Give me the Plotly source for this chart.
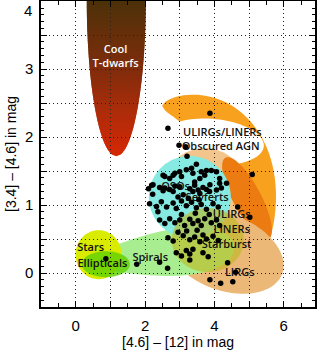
import numpy as np
import plotly.graph_objects as go

# ---------------- data ----------------
dots_x = [2.66, 3.87, 5.09, 2.98, 3.17, 3.21, 3.48, 3.34, 3.77,
          2.52, 2.71, 2.86, 3.05, 3.19, 3.43, 3.58, 3.72, 4.06, 4.15, 4.35, 3.91, 4.15, 2.57, 2.81, 3.00, 3.62, 3.38,
          2.23, 2.10, 2.19, 2.22, 2.42, 2.52, 2.57, 2.71, 2.81, 2.86, 3.00, 3.10, 3.29, 3.38, 3.43, 3.53, 3.58, 3.67, 3.77, 3.86, 3.87, 4.06, 4.20,
          2.13, 2.33, 2.47, 2.62, 2.81, 2.90, 3.05, 3.19, 3.34, 3.48, 3.62, 3.77, 3.96, 4.11, 2.95, 3.25, 3.55,
          2.37, 2.42, 2.57, 2.71, 2.86, 3.00, 3.14, 3.29, 3.38, 3.53, 3.62, 3.72, 3.91, 4.06, 4.15, 3.05, 3.45, 3.85,
          2.66, 2.81, 3.10, 3.29, 3.43, 3.58, 3.67, 3.77, 3.96, 4.11, 3.20, 3.50, 2.95,
          2.90, 3.05, 3.19, 3.29, 3.38, 3.67, 3.82,
          2.65, 3.29, 4.38, 4.61, 3.87, 4.18, 4.53, 4.67, 5.02, 2.42, 1.76, 0.87]
dots_y = [2.13, 2.35, 1.45, 1.88, 1.86, 1.72, 1.60, 1.54, 1.51,
          1.44, 1.39, 1.47, 1.42, 1.52, 1.34, 1.39, 1.44, 1.49, 1.32, 1.32, 1.51, 1.39, 1.42, 1.44, 1.49, 1.49, 1.47,
          1.30, 1.24, 1.29, 1.16, 1.26, 1.21, 1.25, 1.23, 1.20, 1.28, 1.27, 1.15, 1.24, 1.20, 1.29, 1.22, 1.17, 1.26, 1.23, 1.20, 1.30, 1.22, 1.25,
          1.02, 0.98, 1.05, 0.97, 1.03, 0.95, 1.06, 0.99, 1.04, 0.96, 1.01, 0.94, 1.02, 0.97, 1.12, 1.10, 1.08,
          0.90, 0.78, 0.73, 0.80, 0.74, 0.78, 0.70, 0.79, 0.73, 0.77, 0.70, 0.80, 0.74, 0.78, 0.70, 0.86, 0.88, 0.86,
          0.52, 0.47, 0.55, 0.49, 0.53, 0.46, 0.56, 0.50, 0.54, 0.48, 0.62, 0.63, 0.60,
          0.30, 0.25, 0.33, 0.28, 0.35, 0.30, 0.24,
          0.07, 0.19, 0.15, 0.01, -0.10, -0.15, -0.13, 0.97, 0.82, 0.16, 0.13, 0.21]

label_text = ["ULIRGs/LINERs", "Obscured AGN", "QSOs", "Seyferts", "ULIRGs", "LINERs",
              "Starburst", "LIRGs", "Stars", "Ellipticals", "Spirals"]
label_x = [4.23, 4.18, 2.88, 3.79, 4.50, 4.50, 4.35, 4.73, 0.43, 0.77, 2.15]
label_y = [2.06, 1.85, 1.26, 1.10, 0.85, 0.63, 0.41, 0.00, 0.37, 0.13, 0.22]

x_ticks = [-1, 0, 1, 2, 3, 4, 5, 6]
x_ticktext = ["", "0", "", "2", "", "4", "", "6"]
y_ticks = [-0.5, 0, 0.5, 1, 1.5, 2, 2.5, 3, 3.5, 4]
y_ticktext = ["", "0", "", "1", "", "2", "", "3", "", ""]
y_top_label = "4"

XR = [-1, 6.9]
YR = [-0.5, 4.003]

# ---------------- geometry helpers ----------------
W, H = 320, 350
ML, MR, MT, MB = 41, 5, 1, 43
SX = (W - ML - MR) / (XR[1] - XR[0])
SY = (H - MT - MB) / (YR[1] - YR[0])


def to_path(pts):
    return "M " + " L ".join(f"{p[0]:.4f},{p[1]:.4f}" for p in pts) + " Z"


def ell_path(cx, cy, a, b, ang=0.0, egg=0.0, n=90):
    """ellipse centred at data (cx, cy); semi-axes a, b in screen px; ang in deg (screen, ccw)"""
    th = np.radians(ang)
    pts = []
    for t in np.linspace(0, 2 * np.pi, n, endpoint=False):
        u = a * np.cos(t)
        v = b * np.sin(t) * (1 + egg * np.cos(t))
        X = u * np.cos(th) - v * np.sin(th)
        Y = u * np.sin(th) + v * np.cos(th)
        pts.append((cx + X / SX, cy + Y / SY))
    return to_path(pts)


def banana_path(p0, p1, p2, w_out, w_in, expo=0.6, n=60):
    """curved lens along a quadratic Bezier (control points in data units, widths in px)"""
    P = [np.array([p[0] * SX, p[1] * SY]) for p in (p0, p1, p2)]   # to screen-like units (y up)
    outer, inner = [], []
    for t in np.linspace(0, 1, n):
        c = (1 - t) ** 2 * P[0] + 2 * t * (1 - t) * P[1] + t ** 2 * P[2]
        d = 2 * (1 - t) * (P[1] - P[0]) + 2 * t * (P[2] - P[1])
        d = d / np.hypot(*d)
        nrm = np.array([-d[1], d[0]])          # left of travel direction (up-right side)
        prof = np.sin(np.pi * t) ** expo
        outer.append(c + w_out * prof * nrm)
        inner.append(c - w_in * prof * nrm)
    pts = outer + inner[::-1]
    return to_path([(q[0] / SX, q[1] / SY) for q in pts])


shapes = []


def add_shape(path, color, opacity=1.0):
    shapes.append(dict(type="path", path=path, xref="x", yref="y",
                       fillcolor=color, opacity=opacity, line=dict(width=0), layer="below"))


def region(cx, cy, a, b, color, ang=0.0, egg=0.0, opacity=1.0):
    add_shape(ell_path(cx, cy, a, b, ang, egg), color, opacity)


# T-dwarf gradient (strips of an ellipse)
tcx, tcy, ta, tb = 1.17, 4.0, 0.85, 2.28
tip = tcy - tb
stops = [(tip, (215, 40, 5)), (2.3, (178, 44, 10)), (3.0, (128, 45, 12)), (3.6, (98, 48, 10)), (4.0, (76, 50, 10))]


def tcol(y):
    for (y0, c0), (y1, c1) in zip(stops[:-1], stops[1:]):
        if y <= y1:
            f = (y - y0) / (y1 - y0)
            return "rgb(%d,%d,%d)" % tuple(int(c0[i] + f * (c1[i] - c0[i])) for i in range(3))
    return "rgb(%d,%d,%d)" % stops[-1][1]


def tw(y):
    r = 1 - ((y - tcy) / tb) ** 2
    return ta * np.sqrt(max(r, 0))


edges = np.linspace(tip, YR[1], 90)
for y0, y1 in zip(edges[:-1], edges[1:]):
    ys0 = np.linspace(y0, min(y1 + 0.02, YR[1]), 4)
    left = [(tcx - tw(y), y) for y in ys0]
    right = [(tcx + tw(y), y) for y in ys0[::-1]]
    shapes.append(dict(type="path", path=to_path(left + right), xref="x", yref="y",
                       fillcolor=tcol((y0 + y1) / 2), line=dict(width=0), layer="below"))

# regions
add_shape(banana_path((2.49, 2.46), (5.26, 2.37), (5.37, 0.31), 27, 24), "#f7a11e")   # ULIRGs/LINERs
region(3.93, 1.93, 52, 23, "#ffffff", ang=-5)                  # interior
region(3.72, 1.22, 42, 42, "#f2c58c")                          # halo
region(4.94, 1.10, 46, 14, "#ec7c12", ang=-62)                 # obscured AGN
region(4.28, 0.31, 62, 38, "#ecb878", ang=-21)                 # LIRGs
region(2.42, 0.28, 75, 22, "#a8ee90", ang=6, egg=0.45)         # Spirals
region(0.66, 0.27, 23, 24.5, "#d8eb00")                        # Stars
region(0.87, 0.13, 24, 13, "#5fd000", opacity=0.8)             # Ellipticals
region(3.29, 1.12, 41, 41, "#86eae2")                          # QSOs/Seyferts
region(3.81, 0.485, 36, 32, "#bdb820", opacity=0.62)           # Starburst

fig = go.Figure()

fig.add_trace(go.Scatter(x=[1.15], y=[3.18], mode="text", text=["Cool<br>T-dwarfs"],
                         textfont=dict(family="Open Sans", size=11, color="white", weight=600),
                         hoverinfo="skip", showlegend=False))
fig.add_trace(go.Scatter(x=label_x, y=label_y, mode="text", text=label_text,
                         textfont=dict(family="Open Sans", size=11, color="#111111", weight=600),
                         hoverinfo="skip", showlegend=False))
fig.add_trace(go.Scatter(x=dots_x, y=dots_y, mode="markers",
                         marker=dict(color="black", size=5.5, line=dict(width=0)),
                         showlegend=False))

axis_common = dict(showline=True, linecolor="black", linewidth=1.5, mirror="allticks",
                   ticks="inside", ticklen=6, tickwidth=1, tickcolor="black",
                   showgrid=True, gridcolor="#222222", griddash="1px,3px", gridwidth=1,
                   zeroline=False, automargin=False,
                   tickfont=dict(family="Liberation Sans", size=15, color="black"))

fig.update_xaxes(range=XR, tickmode="array", tickvals=x_ticks, ticktext=x_ticktext, ticklabelstandoff=4,
                 minor=dict(dtick=0.5, tick0=0, ticks="inside", ticklen=4, tickcolor="black", showgrid=False),
                 **axis_common)
fig.update_yaxes(range=YR, tickmode="array", tickvals=y_ticks, ticktext=y_ticktext, ticklabelstandoff=3,
                 minor=dict(dtick=0.1, tick0=0, ticks="inside", ticklen=3, tickcolor="black", showgrid=False),
                 **axis_common)

fig.add_annotation(text=y_top_label, xref="paper", yref="y", x=0, y=4, xshift=-7, yshift=1,
                   xanchor="right", yanchor="top", showarrow=False,
                   font=dict(family="Liberation Sans", size=15, color="black"))

title_font = dict(family="Liberation Sans", size=14, color="black")
fig.add_annotation(text="[4.6] – [12] in mag", xref="paper", yref="paper", x=0.5, y=0,
                   yshift=-35, xanchor="center", yanchor="middle", showarrow=False, font=title_font)
fig.add_annotation(text="[3.4] – [4.6] in mag", xref="paper", yref="paper", x=0, y=0.5,
                   xshift=-30, xanchor="center", yanchor="middle", textangle=-90, showarrow=False,
                   font=title_font)

fig.update_layout(width=W, height=H, margin=dict(l=ML, r=MR, t=MT, b=MB),
                  paper_bgcolor="white", plot_bgcolor="white", shapes=shapes, showlegend=False)

fig.write_html("out.html", config={"displayModeBar": False},
               post_script="document.body.style.margin='0px';")
